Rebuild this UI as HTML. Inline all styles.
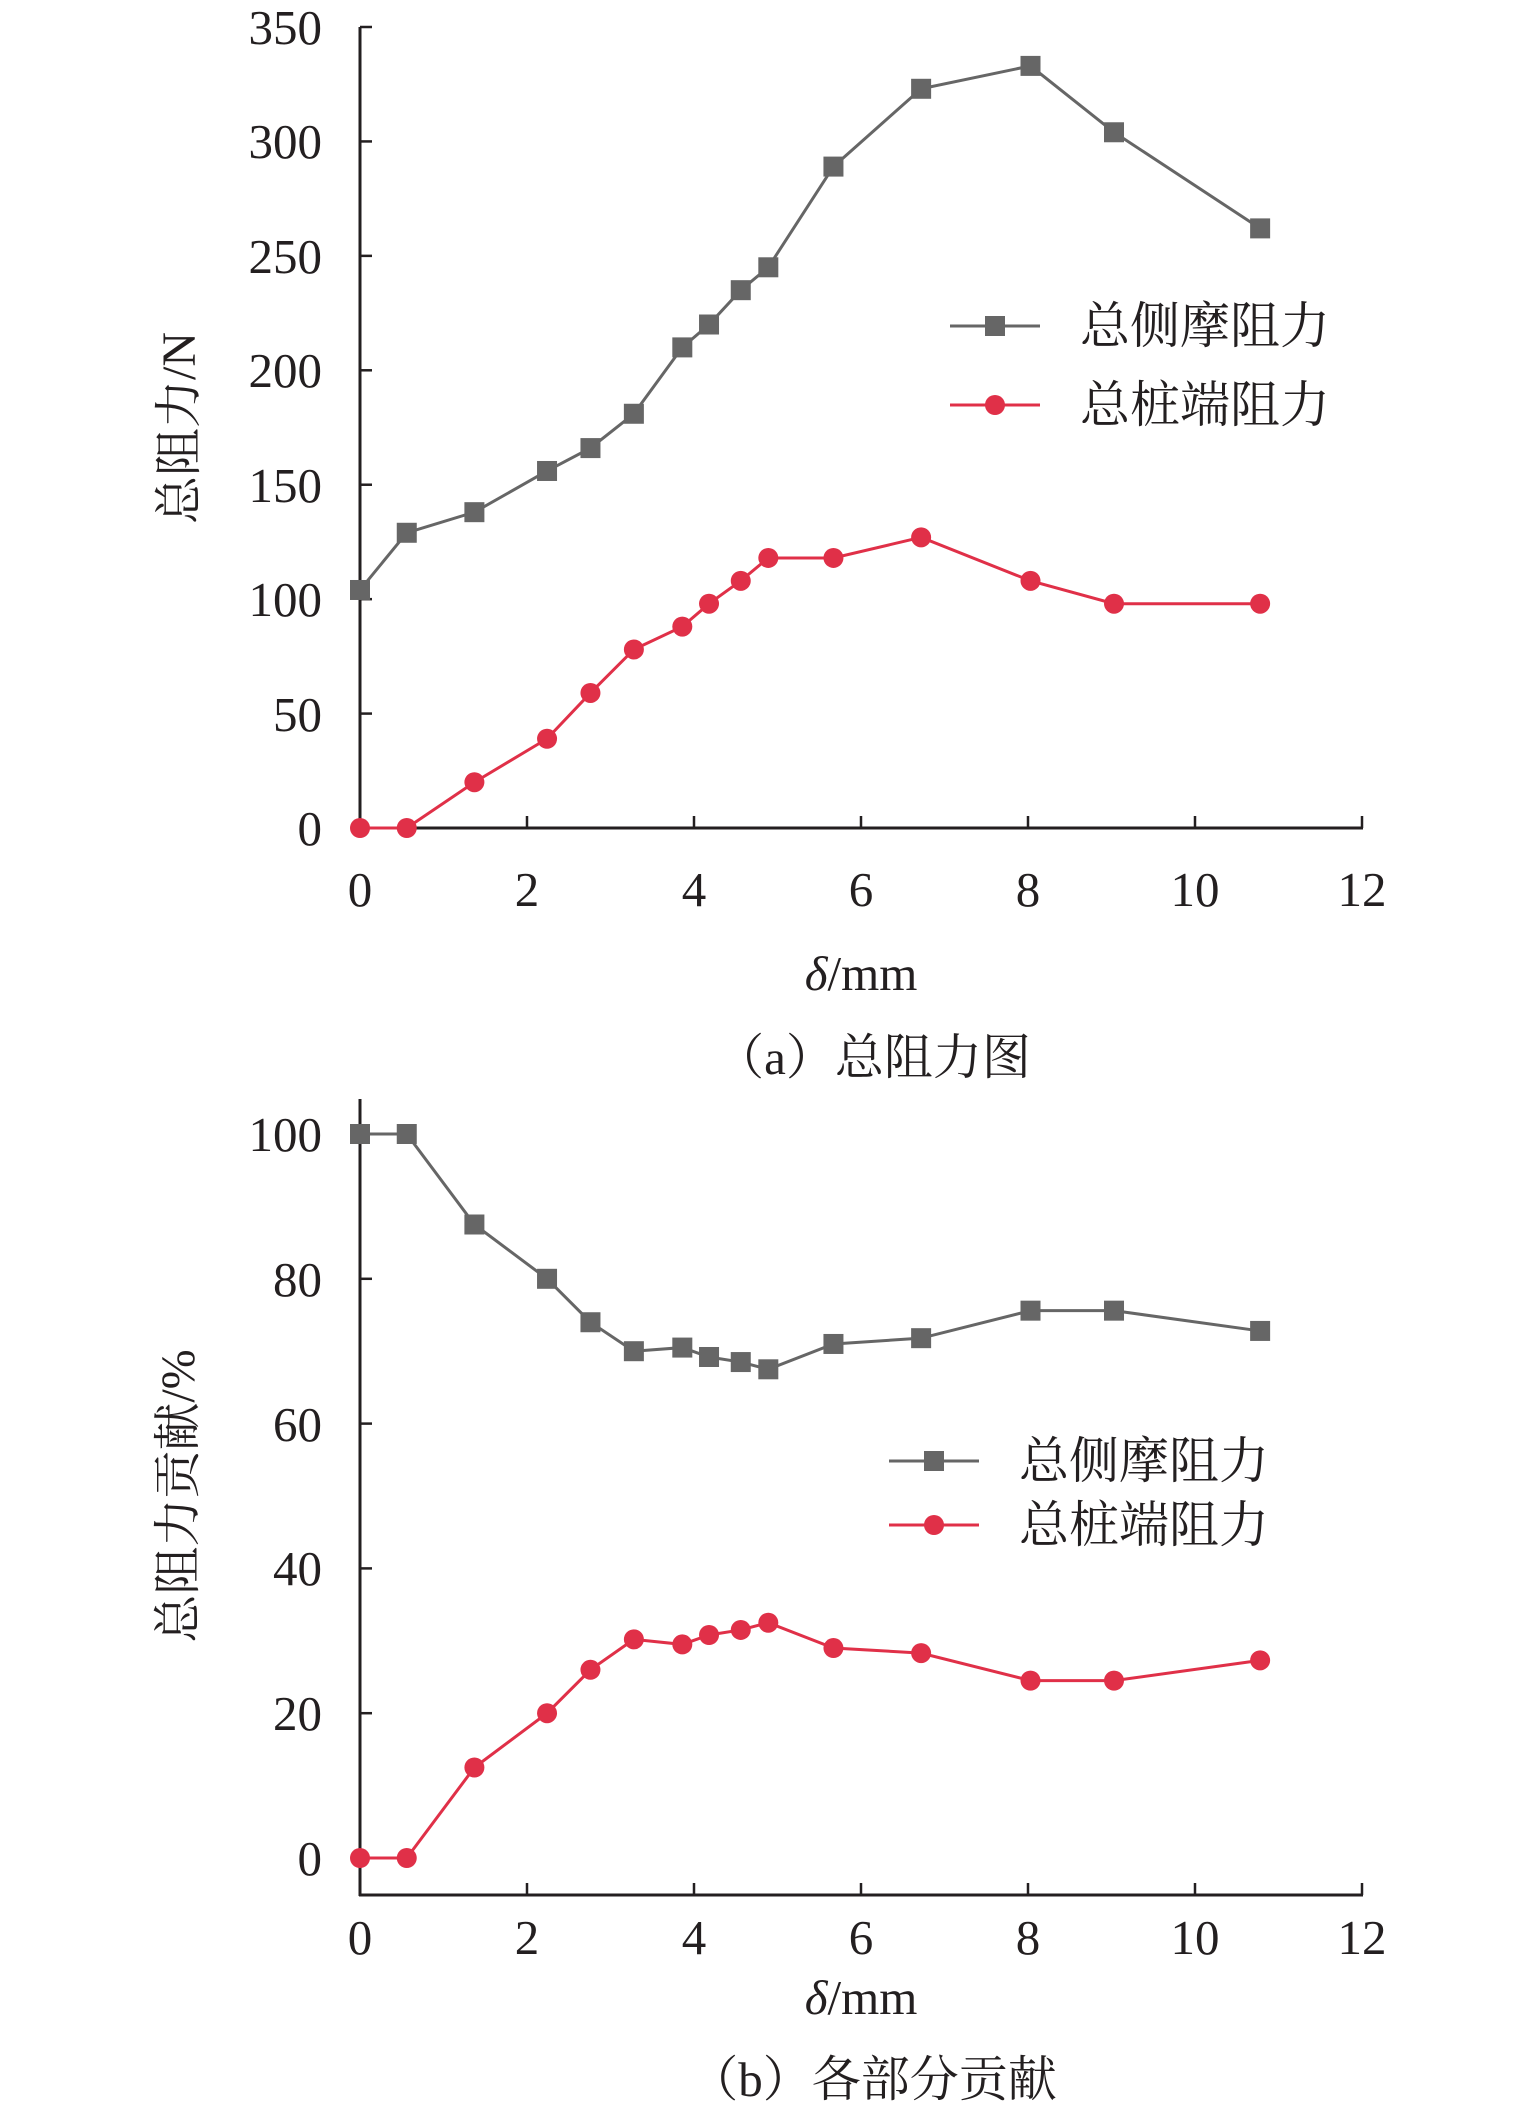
<!DOCTYPE html>
<html><head><meta charset="utf-8"><style>
html,body{margin:0;padding:0;background:#fff;}
svg text{font-family:"Liberation Serif","Noto Serif CJK SC",serif;fill:#231f20;}
</style></head><body>
<svg id="s" width="1535" height="2115" viewBox="0 0 1535 2115" xmlns="http://www.w3.org/2000/svg">
<line x1="360" y1="27" x2="360" y2="829" stroke="#231f20" stroke-width="3"/>
<line x1="359" y1="828" x2="1363" y2="828" stroke="#231f20" stroke-width="3"/>
<g font-size="49" text-anchor="end">
<text x="322" y="44">350</text><text x="322" y="158">300</text><text x="322" y="273">250</text><text x="322" y="387">200</text><text x="322" y="502">150</text><text x="322" y="616">100</text><text x="322" y="731">50</text><text x="322" y="845">0</text>
</g>
<g font-size="49" text-anchor="middle">
<text x="360" y="906">0</text><text x="527" y="906">2</text><text x="694" y="906">4</text><text x="861" y="906">6</text><text x="1028" y="906">8</text><text x="1195" y="906">10</text><text x="1362" y="906">12</text>
<text x="861" y="990"><tspan font-style="italic">δ</tspan>/mm</text>
<text x="873" y="1074">（a）总阻力图</text>
</g>
<text font-size="48" text-anchor="middle" transform="translate(195,428) rotate(-90)">总阻力/N</text>
<line x1="950" y1="326" x2="1040" y2="326" stroke="#666" stroke-width="3"/><rect x="985" y="316" width="20" height="20" fill="#666"/>
<line x1="950" y1="405" x2="1040" y2="405" stroke="#e03048" stroke-width="3"/><circle cx="995" cy="405" r="10" fill="#e03048"/>
<text x="1080" y="343" font-size="50">总侧摩阻力</text>
<text x="1080" y="422" font-size="50">总桩端阻力</text>

<line x1="360" y1="1099" x2="360" y2="1896" stroke="#231f20" stroke-width="3"/>
<line x1="359" y1="1895" x2="1363" y2="1895" stroke="#231f20" stroke-width="3"/>
<g font-size="49" text-anchor="end">
<text x="322" y="1151">100</text><text x="322" y="1296">80</text><text x="322" y="1441">60</text><text x="322" y="1585">40</text><text x="322" y="1730">20</text><text x="322" y="1875">0</text>
</g>
<g font-size="49" text-anchor="middle">
<text x="360" y="1954">0</text><text x="527" y="1954">2</text><text x="694" y="1954">4</text><text x="861" y="1954">6</text><text x="1028" y="1954">8</text><text x="1195" y="1954">10</text><text x="1362" y="1954">12</text>
<text x="861" y="2014"><tspan font-style="italic">δ</tspan>/mm</text>
<text x="873" y="2096">（b）各部分贡献</text>
</g>
<text font-size="48" text-anchor="middle" transform="translate(194,1496) rotate(-90)">总阻力贡献/%</text>
<line x1="889" y1="1461" x2="979" y2="1461" stroke="#666" stroke-width="3"/><rect x="924" y="1451" width="20" height="20" fill="#666"/>
<line x1="889" y1="1525" x2="979" y2="1525" stroke="#e03048" stroke-width="3"/><circle cx="934" cy="1525" r="10" fill="#e03048"/>
<text x="1019" y="1478" font-size="50">总侧摩阻力</text>
<text x="1019" y="1542" font-size="50">总桩端阻力</text>
</svg>
<script>
var s=document.getElementById('s'),NS='http://www.w3.org/2000/svg';
function el(t,a){var e=document.createElementNS(NS,t);for(var k in a)e.setAttribute(k,a[k]);s.appendChild(e);return e;}
var X=[0,0.56,1.37,2.24,2.76,3.28,3.86,4.18,4.56,4.89,5.67,6.72,8.03,9.03,10.78];
function xp(v){return 360+v*83.5;}
for(var i=1;i<=6;i++){var x=xp(2*i);el('line',{x1:x,y1:828,x2:x,y2:816,stroke:'#231f20','stroke-width':2.5});el('line',{x1:x,y1:1895,x2:x,y2:1883,stroke:'#231f20','stroke-width':2.5});}
for(var j=0;j<7;j++){var y=27+j*114.43;el('line',{x1:360,y1:y,x2:372,y2:y,stroke:'#231f20','stroke-width':2.5});}
for(var j=0;j<5;j++){var y=1134+j*144.8;el('line',{x1:360,y1:y,x2:372,y2:y,stroke:'#231f20','stroke-width':2.5});}
function series(vals,y0,k,col,sq){var p=[];for(var i=0;i<X.length;i++)p.push(xp(X[i])+','+(y0-vals[i]*k));
el('polyline',{points:p.join(' '),fill:'none',stroke:col,'stroke-width':3});
for(var i=0;i<X.length;i++){var x=xp(X[i]),y=y0-vals[i]*k;if(sq)el('rect',{x:x-10,y:y-10,width:20,height:20,fill:col});else el('circle',{cx:x,cy:y,r:10,fill:col});}}
series([104,129,138,156,166,181,210,220,235,245,289,323,333,304,262],828,2.2886,'#666',1);
series([0,0,20,39,59,78,88,98,108,118,118,127,108,98,98],828,2.2886,'#e03048',0);
series([100,100,87.5,80,74,70,70.5,69.2,68.5,67.5,71,71.8,75.6,75.6,72.8],1858,7.24,'#666',1);
series([0,0,12.5,20,26,30.2,29.5,30.8,31.5,32.5,29,28.3,24.5,24.5,27.3],1858,7.24,'#e03048',0);
</script>
</body></html>
